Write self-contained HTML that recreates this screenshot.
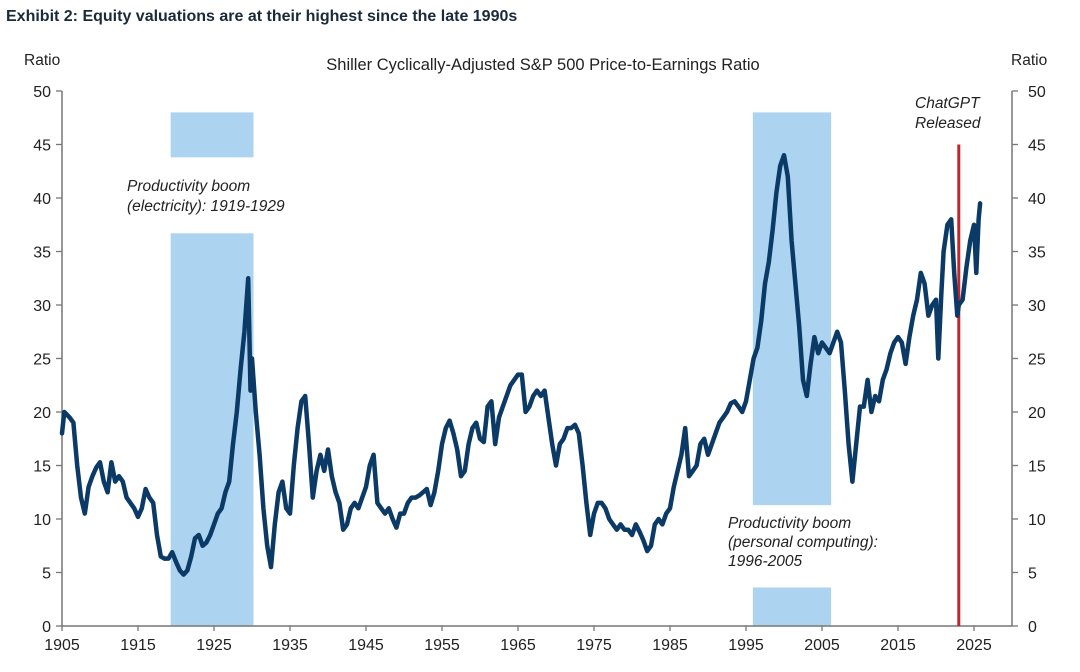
<!DOCTYPE html>
<html><head><meta charset="utf-8"><style>
html,body{margin:0;padding:0;background:#fff;}
svg{display:block;font-family:"Liberation Sans",Arial,sans-serif;}
</style></head><body>
<svg id="chart" width="1080" height="672" viewBox="0 0 1080 672">
<text x="6" y="21" font-size="16" font-weight="bold" fill="#1a2a3a">Exhibit 2: Equity valuations are at their highest since the late 1990s</text>
<text x="543" y="70" font-size="16.5" text-anchor="middle" fill="#222">Shiller Cyclically-Adjusted S&amp;P 500 Price-to-Earnings Ratio</text>
<text x="24" y="65" font-size="15.5" fill="#222">Ratio</text>
<text x="1011" y="65" font-size="15.5" fill="#222">Ratio</text>
<g id="shades"></g>
<g id="axes"></g>
<g id="series"></g>
<text x="127" y="191" font-size="15.5" font-style="italic" fill="#222"><tspan x="127">Productivity boom</tspan><tspan x="127" dy="20">(electricity): 1919-1929</tspan></text>
<text x="728" y="528" font-size="15.5" font-style="italic" fill="#222"><tspan x="728">Productivity boom</tspan><tspan x="728" dy="19">(personal computing):</tspan><tspan x="728" dy="19">1996-2005</tspan></text>
<text x="915" y="108" font-size="15.5" font-style="italic" fill="#222"><tspan x="915">ChatGPT</tspan><tspan x="915" dy="20">Released</tspan></text>
</svg>
<script>
const years=[1905,1905.3,1906,1906.5,1907,1907.5,1908,1908.5,1909,1909.5,1910,1910.5,1911,1911.5,1912,1912.5,1913,1913.5,1914,1914.5,1915,1915.5,1916,1916.5,1917,1917.5,1918,1918.5,1919,1919.5,1920,1920.5,1921,1921.5,1922,1922.5,1923,1923.5,1924,1924.5,1925,1925.5,1926,1926.5,1927,1927.5,1928,1928.5,1929,1929.5,1929.8,1930,1930.5,1931,1931.5,1932,1932.5,1933,1933.5,1934,1934.5,1935,1935.5,1936,1936.5,1937,1937.5,1938,1938.5,1939,1939.5,1940,1940.5,1941,1941.5,1942,1942.5,1943,1943.5,1944,1944.5,1945,1945.5,1946,1946.5,1947,1947.5,1948,1948.5,1949,1949.5,1950,1950.5,1951,1951.5,1952,1952.5,1953,1953.5,1954,1954.5,1955,1955.5,1956,1956.5,1957,1957.5,1958,1958.5,1959,1959.5,1960,1960.5,1961,1961.5,1962,1962.5,1963,1963.5,1964,1964.5,1965,1965.5,1966,1966.5,1967,1967.5,1968,1968.5,1969,1969.5,1970,1970.5,1971,1971.5,1972,1972.5,1973,1973.5,1974,1974.5,1975,1975.5,1976,1976.5,1977,1977.5,1978,1978.5,1979,1979.5,1980,1980.5,1981,1981.5,1982,1982.5,1983,1983.5,1984,1984.5,1985,1985.5,1986,1986.5,1987,1987.5,1988,1988.5,1989,1989.5,1990,1990.5,1991,1991.5,1992,1992.5,1993,1993.5,1994,1994.5,1995,1995.5,1996,1996.5,1997,1997.5,1998,1998.5,1999,1999.5,2000,2000.5,2001,2001.5,2002,2002.5,2003,2003.5,2004,2004.5,2005,2005.5,2006,2006.5,2007,2007.5,2008,2008.5,2009,2009.5,2010,2010.5,2011,2011.5,2012,2012.5,2013,2013.5,2014,2014.5,2015,2015.5,2016,2016.5,2017,2017.5,2018,2018.5,2019,2019.5,2020,2020.3,2020.7,2021,2021.5,2022,2022.4,2022.8,2023,2023.5,2024,2024.5,2025,2025.3,2025.6,2025.8];
const cape=[18,20,19.5,19,15,12,10.5,13,14,14.8,15.3,13.5,12.5,15.3,13.5,14,13.5,12,11.5,11,10.2,11,12.8,12,11.5,8.5,6.5,6.3,6.3,6.9,6,5.2,4.8,5.2,6.5,8.2,8.5,7.5,7.8,8.5,9.5,10.5,11,12.5,13.5,17,20,24,27.5,32.5,22,25,20,16,11,7.5,5.5,9.5,12.5,13.5,11,10.5,15,18.5,21,21.5,17,12,14.5,16,14.5,16.5,14,12.5,11.5,9,9.5,11,11.5,11,12,13,15,16,11.5,11,10.5,11,10,9.2,10.5,10.5,11.5,12,12,12.2,12.5,12.8,11.3,12.5,14.5,17,18.5,19.2,18,16.5,14,14.5,17,18.5,19,17.5,17.2,20.5,21,17,19.5,20.5,21.5,22.5,23,23.5,23.5,20,20.5,21.5,22,21.5,22,19.5,17,15,17,17.5,18.5,18.5,18.8,18,15,11.5,8.5,10.5,11.5,11.5,11,10,9.5,9,9.5,9,9,8.5,9.5,8.8,8,7,7.5,9.5,10,9.5,10.5,11,13,14.5,16,18.5,14,14.5,15,17,17.5,16,17,18,19,19.5,20,20.8,21,20.5,20,21,23,25,26,28.5,32,34,37,40.5,43,44,42,36,32,28,23,21.5,24.5,27,25.5,26.5,26,25.5,26.5,27.5,26.5,22,17,13.5,17,20.5,20.5,23,20,21.5,21,23,24,25.5,26.5,27,26.5,24.5,27,29,30.5,33,32,29,30,30.5,25,31,35,37.5,38,33,29,30,30.5,33.5,36,37.5,33,38,39.5];
const xTicks=[1905,1915,1925,1935,1945,1955,1965,1975,1985,1995,2005,2015,2025];
const yTicks=[0,5,10,15,20,25,30,35,40,45,50];
const booms=[[1919.3,1930.2],[1995.9,2006.2]];
const chatgptYear=2023.0;

const NS='http://www.w3.org/2000/svg';
const X0=62,PXY=7.6,Y0=626,PXV=10.7,RIGHT=1012;
function sx(y){return X0+(y-1905)*PXY;}
function sy(v){return Y0-v*PXV;}
function mk(tag,attrs,parent){const e=document.createElementNS(NS,tag);for(const k in attrs)e.setAttribute(k,attrs[k]);parent.appendChild(e);return e;}
const shades=document.getElementById('shades'),axes=document.getElementById('axes'),series=document.getElementById('series');

const b0=booms[0],b1=booms[1];
let r=mk('rect',{x:sx(b0[0]),y:sy(48),width:sx(b0[1])-sx(b0[0]),height:sy(43.8)-sy(48),fill:'#acd3f0'},shades);


r=mk('rect',{x:sx(b0[0]),y:sy(36.7),width:sx(b0[1])-sx(b0[0]),height:sy(0)-sy(36.7),fill:'#acd3f0'},shades);


r=mk('rect',{x:sx(b1[0]),y:sy(48),width:sx(b1[1])-sx(b1[0]),height:sy(11.3)-sy(48),fill:'#acd3f0'},shades);


r=mk('rect',{x:sx(b1[0]),y:sy(3.6),width:sx(b1[1])-sx(b1[0]),height:sy(0)-sy(3.6),fill:'#acd3f0'},shades);



let l=mk('line',{x1:X0,y1:sy(50),x2:X0,y2:Y0,stroke:'#777','stroke-width':1.5},axes);


l=mk('line',{x1:RIGHT,y1:sy(50),x2:RIGHT,y2:Y0,stroke:'#777','stroke-width':1.5},axes);


l=mk('line',{x1:X0,y1:Y0,x2:RIGHT,y2:Y0,stroke:'#777','stroke-width':1.5},axes);


yTicks.forEach(v=>{
  mk('line',{x1:X0-6,y1:sy(v),x2:X0,y2:sy(v),stroke:'#777','stroke-width':1.3},axes);
  mk('line',{x1:RIGHT,y1:sy(v),x2:RIGHT+6,y2:sy(v),stroke:'#777','stroke-width':1.3},axes);
  let t=mk('text',{x:X0-11,y:sy(v)+6,'font-size':16,'text-anchor':'end',fill:'#222'},axes);t.textContent=v;
  
  
  t=mk('text',{x:RIGHT+16,y:sy(v)+6,'font-size':16,fill:'#222'},axes);t.textContent=v;
  
  
});
xTicks.forEach(y=>{
  mk('line',{x1:sx(y),y1:Y0,x2:sx(y),y2:Y0+5,stroke:'#777','stroke-width':1.3},axes);
  const t=mk('text',{x:sx(y),y:Y0+24,'font-size':16,'text-anchor':'middle',fill:'#222'},axes);t.textContent=y;
  
  
});

l=mk('line',{x1:sx(chatgptYear),y1:sy(45),x2:sx(chatgptYear),y2:Y0,stroke:'#c0262b','stroke-width':3},series);



const d=years.map((y,i)=>(i?'L':'M')+sx(y).toFixed(1)+','+sy(cape[i]).toFixed(1)).join('');
const p=mk('path',{d:d,fill:'none',stroke:'#0b3a66','stroke-width':4.5,'stroke-linejoin':'round','stroke-linecap':'round'},series);


</script>
</body></html>
